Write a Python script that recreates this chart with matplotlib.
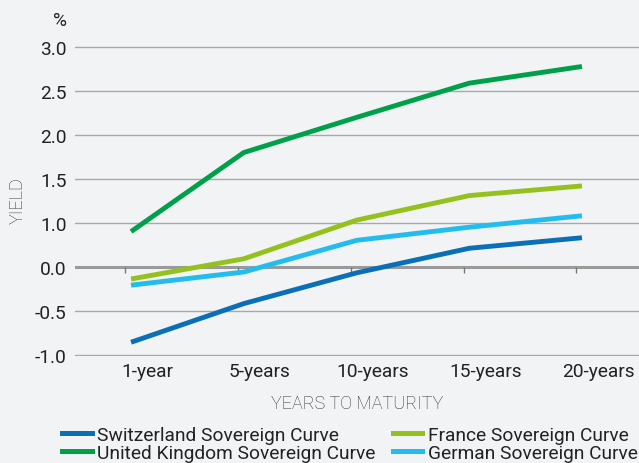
import matplotlib
matplotlib.use("Agg")
import matplotlib.pyplot as plt
import matplotlib.transforms as mtransforms
from matplotlib.lines import Line2D

plt.rcParams['font.family'] = ['Roboto', 'DejaVu Sans']

categories = ["1-year", "5-years", "10-years", "15-years", "20-years"]
switzerland = [-0.86, -0.42, -0.07, 0.21, 0.33]
uk = [0.40, 1.30, 1.70, 2.09, 2.28]
france = [-0.14, 0.09, 0.53, 0.81, 0.92]
germany = [-0.21, -0.06, 0.30, 0.45, 0.58]
series_names = ["Switzerland Sovereign Curve", "United Kingdom Sovereign Curve",
                "France Sovereign Curve", "German Sovereign Curve"]
ytick_values = [-1.0, -0.5, 0.0, 0.5, 1.0, 1.5, 2.0, 2.5]
ytick_labels = ["-1.0", "-0.5", "0.0", "1.0", "1.5", "2.0", "2.5", "3.0"]

colors = ["#0a6fb7", "#00a04b", "#95c11f", "#22bdee"]
bg = "#f2f3f5"
text_c = "#222222"
fs = 13.8

fig = plt.figure(figsize=(6.39, 4.64), dpi=100, facecolor=bg)
ax = fig.add_axes([75/639, 1-357.3/464, 1-75/639, (357.3-46.4)/464], facecolor=bg)

x = list(range(len(categories)))
for vals, c in zip([switzerland, uk, france, germany], colors):
    ax.plot(x, vals, color=c, lw=3.5, solid_capstyle='butt', zorder=3)

ax.set_xlim(-0.497, 4.506)
ax.set_ylim(-1.02, 2.52)
for v in ytick_values:
    if v == 0.0:
        ax.axhline(v, color="#9a9a9a", lw=2.2, zorder=2)
    else:
        ax.axhline(v, color="#a8a8a8", lw=1.0, zorder=1)
ax.vlines([i - 0.05 for i in x], -0.07, 0, color="#777777", lw=1.0, zorder=2)

ax.set_yticks(ytick_values)
ax.set_yticklabels(ytick_labels)
ax.set_xticks(x)
ax.set_xticklabels(categories)
ax.tick_params(axis='both', length=0, labelsize=fs, colors=text_c)
ax.tick_params(axis='y', pad=6)
ax.tick_params(axis='x', pad=4)
off = mtransforms.ScaledTranslation(16/100, 0, fig.dpi_scale_trans)
for lbl in ax.get_xticklabels():
    lbl.set_transform(lbl.get_transform() + off)
for s in ax.spines.values():
    s.set_visible(False)

ax.set_xlabel("YEARS TO MATURITY", fontsize=13, color="#333333", fontweight='light', labelpad=10)
fig.text(18/639, 1-201/464, "YIELD", rotation=90, fontsize=13, color="#333333",
         fontweight='light', ha='center', va='center')
fig.text(60/639, 1-21/464, "%", fontsize=fs, color=text_c, ha='center', va='center')

handles = [Line2D([0], [0], color=c, lw=3.6) for c in colors]
leg = fig.legend(handles, series_names, ncol=2, loc='upper left',
                 bbox_to_anchor=(62/639, 1-427/464), frameon=False, fontsize=fs,
                 handlelength=1.55, handletextpad=0.28, columnspacing=0.9,
                 labelspacing=-0.02, borderpad=0, borderaxespad=0)
for t in leg.get_texts():
    t.set_color(text_c)

fig.savefig("out.png", dpi=100, facecolor=bg)
